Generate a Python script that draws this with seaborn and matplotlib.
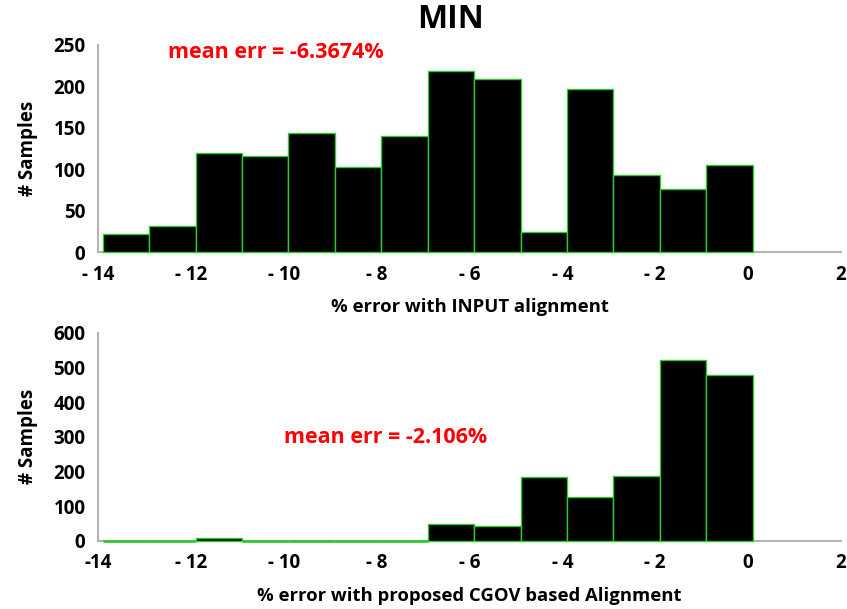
import numpy as np
import matplotlib
matplotlib.use("Agg")
import matplotlib.pyplot as plt
import seaborn as sns

# Histogram bins (% error), width 1
bin_edges = [-13.9, -12.9, -11.9, -10.9, -9.9, -8.9, -7.9, -6.9,
             -5.9, -4.9, -3.9, -2.9, -1.9, -0.9, 0.1]

# Sample counts per bin
input_counts = [22, 31, 120, 116, 144, 103, 140, 219, 209, 24, 197, 93, 76, 105]
cgov_counts = [0, 0, 8, 0, 0, 0, 0, 48, 42, 184, 125, 186, 522, 479]

x_ticks = [-14, -12, -10, -8, -6, -4, -2, 0, 2]
top_tick_labels = ["- 14", "- 12", "- 10", "- 8", "- 6", "- 4", "- 2", "0", "2"]
bottom_tick_labels = ["-14", "- 12", "- 10", "- 8", "- 6", "- 4", "- 2", "0", "2"]
top_y_ticks = [0, 50, 100, 150, 200, 250]
bottom_y_ticks = [0, 100, 200, 300, 400, 500, 600]

sns.set_style("white")
plt.rcParams["font.family"] = ["Open Sans", "DejaVu Sans"]
plt.rcParams["font.weight"] = "bold"
plt.rcParams["text.color"] = "black"
plt.rcParams["axes.labelcolor"] = "black"

fig = plt.figure(figsize=(8.47, 6.09), dpi=100)
ax_top = fig.add_axes([0.1157, 0.5862, 0.8772, 0.3400])
ax_bot = fig.add_axes([0.1157, 0.1121, 0.8772, 0.3416])

centers = [(a + b) / 2 for a, b in zip(bin_edges[:-1], bin_edges[1:])]
spine_gray = "#b4b4b4"
edge_green = "#2ecc2e"


def draw_panel(ax, counts, yticks, xlabels, xlabel, ylim):
    sns.histplot(x=centers, weights=counts, bins=bin_edges, ax=ax,
                 color="black", edgecolor=edge_green, linewidth=1.0,
                 alpha=1.0)
    # bars sit above the axis line so empty bins show as a green baseline
    for patch in ax.patches:
        patch.set_zorder(3)
        patch.set_clip_on(False)
        if patch.get_height() == 0:
            patch.set_linewidth(2.0)
    ax.set_xlim(-14, 2)
    ax.set_ylim(*ylim)
    ax.set_xticks(x_ticks)
    ax.set_xticklabels(xlabels, fontsize=13.5, fontweight="bold")
    ax.set_yticks(yticks)
    ax.set_yticklabels([str(v) for v in yticks], fontsize=13.5,
                       fontweight="bold")
    ax.set_xlabel(xlabel, fontsize=13.3, fontweight="bold", labelpad=10,
                  color="black")
    ax.set_ylabel("# Samples", fontsize=13.5, fontweight="bold", labelpad=11,
                  color="black")
    sns.despine(ax=ax)
    for side in ("left", "bottom"):
        ax.spines[side].set_color(spine_gray)
        ax.spines[side].set_linewidth(1.5)
        ax.spines[side].set_zorder(2)
    ax.tick_params(axis="both", colors=spine_gray, length=5, width=1.2,
                   direction="out", labelcolor="black", pad=4)
    ax.set_facecolor("white")


draw_panel(ax_top, input_counts, top_y_ticks, top_tick_labels,
           "% error with INPUT alignment", (0, 250))
draw_panel(ax_bot, cgov_counts, bottom_y_ticks, bottom_tick_labels,
           "% error with proposed CGOV based Alignment", (0, 600))

ax_top.text(-12.5, 241, "mean err = -6.3674%", color="red", fontsize=15.5,
            fontweight="bold", ha="left", va="center")
ax_bot.text(-10.0, 299, "mean err = -2.106%", color="red", fontsize=15.5,
            fontweight="bold", ha="left", va="center")

fig.text(451 / 847, 1 - 20 / 609, "MIN", ha="center", va="center",
         fontsize=23, fontweight="bold", color="black")

fig.savefig("out.png", dpi=100, facecolor="white")
